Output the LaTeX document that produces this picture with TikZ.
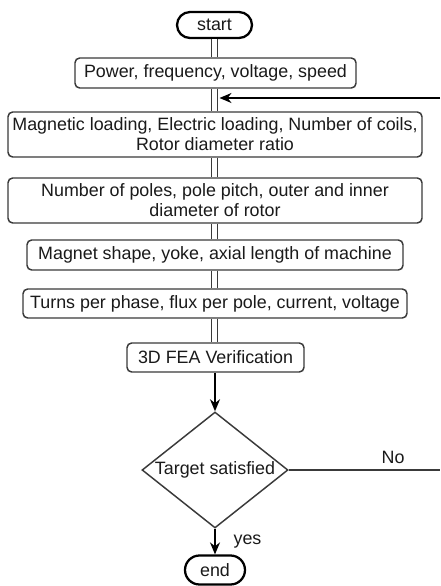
\documentclass[tikz,border=0pt]{standalone}
\usepackage{fontspec}
\setmainfont{Liberation Sans}
\usetikzlibrary{shapes.geometric,shapes.misc,arrows.meta}
\definecolor{boxgray}{HTML}{3A3A3A}
\definecolor{txt}{HTML}{1A1A1A}
\def\px{0.75pt}
\tikzset{
  lbl/.style={font=\fontsize{13.4}{15}\selectfont, text=txt},
  box/.style={lbl, draw=boxgray, line width=1.1pt, rounded corners=3.5pt, fill=white,
    align=center, inner sep=0pt},
  term/.style={lbl, draw=black, line width=1.7pt, rounded rectangle, fill=white, inner sep=0pt},
  decision/.style={lbl, draw=boxgray, line width=1.1pt, diamond, aspect=1.26, fill=white, inner sep=0pt},
  dbl/.style={draw=boxgray, double, double distance=3.4pt, line width=0.9pt},
  arr/.style={draw=black, line width=1.2pt, -{Stealth[length=9pt,width=7.5pt]}},
  plain/.style={draw=boxgray, line width=1.1pt}
}
\begin{document}
\begin{tikzpicture}[x=\px, y=-\px]
\useasboundingbox (0,0) rectangle (440,586);
\node[term, minimum width={75*\px}, minimum height={26*\px}] (start) at (214.5,25) {start};
\node[box, minimum width={281*\px}, minimum height={30*\px}] (b1) at (215.5,73) {Power, frequency, voltage, speed};
\node[box, minimum width={414*\px}, minimum height={45*\px}] (b2) at (215,134.5) {Magnetic loading, Electric loading, Number of coils,\\Rotor diameter ratio};
\node[box, minimum width={414*\px}, minimum height={45*\px}] (b3) at (215,200.5) {Number of poles, pole pitch, outer and inner\\diameter of rotor};
\node[box, minimum width={376*\px}, minimum height={30*\px}] (b4) at (215,255) {Magnet shape, yoke, axial length of machine};
\node[box, minimum width={384*\px}, minimum height={29*\px}] (b5) at (215,303.5) {Turns per phase, flux per pole, current, voltage};
\node[box, minimum width={177*\px}, minimum height={29*\px}] (b6) at (215.5,357.5) {3D FEA Verification};
\node[decision, minimum width={146*\px}, minimum height={116*\px}] (dec) at (215,470) {Target satisfied};
\node[term, minimum width={60*\px}, minimum height={29*\px}] (end) at (215,570) {end};

\draw[dbl] (start.south) -- (start.south |- b1.north);
\draw[dbl] (b1.south -| start.south) -- (start.south |- b2.north);
\draw[dbl] (b2.south -| start.south) -- (start.south |- b3.north);
\draw[dbl] (b3.south -| start.south) -- (start.south |- b4.north);
\draw[dbl] (b4.south -| start.south) -- (start.south |- b5.north);
\draw[dbl] (b5.south -| start.south) -- (start.south |- b6.north);

\draw[arr] (b6.south -| dec.north) -- (dec.north);
\draw[arr] (dec.south) -- (end.north) node[lbl, midway, right=10pt] {yes};

\coordinate (noend) at (440,470);
\coordinate (fbstart) at (440,98);
\coordinate (fbtip) at (219.5,98);
\draw[plain] (dec.east) -- (noend) node[lbl, pos=0.69, above=1pt] {No};
\draw[arr] (fbstart) -- (fbtip);
\end{tikzpicture}
\end{document}
